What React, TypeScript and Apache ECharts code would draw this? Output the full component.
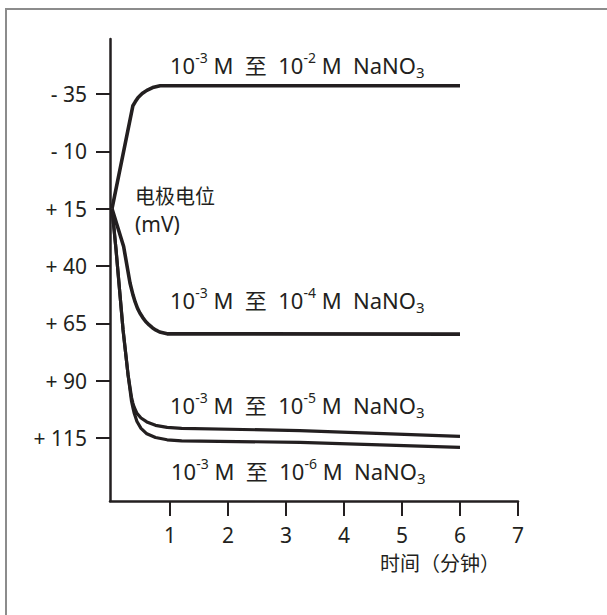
import React, { useEffect, useRef } from "react";
import * as echarts from "echarts";

// time (minutes)
const xTicks = [1, 2, 3, 4, 5, 6, 7];
// electrode potential tick values (mV)
const yTicks = [-35, -10, 15, 40, 65, 90, 115];

// curve: 10^-3 M -> 10^-2 M NaNO3
const c2X = [0, 0.36, 0.4, 0.45, 0.52, 0.6, 0.7, 0.83, 6.0];
const c2Y = [15, -29.9, -31.6, -33.5, -35.2, -36.6, -37.8, -38.6, -38.6];
// curve: 10^-3 M -> 10^-4 M NaNO3
const c4X = [0, 0.2, 0.31, 0.36, 0.4, 0.44, 0.48, 0.53, 0.58, 0.64, 0.7, 0.76, 0.82, 0.95, 6.0];
const c4Y = [15, 31.5, 47.4, 52.5, 55.8, 58.5, 60.5, 62.5, 64.2, 65.7, 67, 68, 68.8, 69.6, 69.7];
// curve: 10^-3 M -> 10^-5 M NaNO3
const c5X = [0, 0.069, 0.19, 0.276, 0.336, 0.36, 0.38, 0.43, 0.5, 0.6, 0.75, 0.95, 1.2, 3.24, 6.0];
const c5Y = [15, 32.9, 67.8, 87.4, 97.3, 99.8, 101.5, 104.3, 106.3, 108, 109.5, 110.4, 110.8, 111.8, 114.3];
// curve: 10^-3 M -> 10^-6 M NaNO3
const c6X = [0, 0.069, 0.19, 0.276, 0.336, 0.36, 0.38, 0.43, 0.5, 0.6, 0.75, 0.95, 1.2, 3.24, 6.0];
const c6Y = [15, 32.9, 67.8, 87.4, 99, 101.8, 104, 107.8, 110.8, 113.2, 114.8, 115.8, 116.3, 116.9, 119.1];

const seriesNames = ["10^-2", "10^-4", "10^-5", "10^-6"];
const yAxisTitle = ["电极电位", "(mV)"];
const xAxisTitle = "时间（分钟）";

const INK = "#231f20";
const FONT = '"Noto Sans", "Noto Sans CJK SC", sans-serif';

function pairs(xs: number[], ys: number[]) {
  return xs.map((x, i) => [x, ys[i]]);
}

function annot(exp: string, x: number, y: number) {
  return {
    type: "text",
    left: x,
    top: y - 15,
    style: {
      text: `{n|10}{sup|-3}{n| M  至  10}{sup|${exp}}{n| M  NaNO}{sub|3}`,
      fill: INK,
      fontFamily: FONT,
      rich: {
        n: { fontSize: 22, lineHeight: 30, fontFamily: FONT, fill: INK },
        sup: { fontSize: 14, lineHeight: 20, verticalAlign: "top", fontFamily: FONT, fill: INK },
        sub: { fontSize: 15, lineHeight: 12, verticalAlign: "bottom", fontFamily: FONT, fill: INK },
      },
    },
  };
}

export default function App() {
  const ref = useRef<HTMLDivElement>(null);
  useEffect(() => {
    if (!ref.current) return;
    const chart = echarts.init(ref.current, null, { renderer: "svg" });
    const data = [pairs(c2X, c2Y), pairs(c4X, c4Y), pairs(c5X, c5Y), pairs(c6X, c6Y)];
    const widths = [3.6, 3.6, 3.2, 3.2];
    chart.setOption({
      animation: false,
      backgroundColor: "#ffffff",
      textStyle: { fontFamily: FONT },
      grid: { left: 110, top: 39, width: 408, height: 462 },
      xAxis: {
        type: "value",
        min: -0.035,
        max: 7,
        axisLine: { show: true, onZero: false, lineStyle: { color: INK, width: 2.5 } },
        axisTick: { show: true, customValues: xTicks, length: 15, lineStyle: { color: INK, width: 2 } },
        axisLabel: { customValues: xTicks, margin: 23, fontSize: 21, color: INK, fontFamily: FONT },
        splitLine: { show: false },
      },
      yAxis: {
        type: "value",
        inverse: true,
        min: -59,
        max: 142.5,
        axisLine: { show: true, onZero: false, lineStyle: { color: INK, width: 2.5 } },
        axisTick: { show: true, customValues: yTicks, length: 14, lineStyle: { color: INK, width: 2 } },
        axisLabel: {
          customValues: yTicks,
          margin: 23,
          fontSize: 21,
          color: INK,
          fontFamily: FONT,
          padding: [6, 0, 0, 0],
          formatter: (v: number) => (v < 0 ? `- ${Math.abs(v)}` : `+ ${v}`),
        },
        splitLine: { show: false },
      },
      series: data.map((d, i) => ({
        type: "line",
        name: seriesNames[i],
        data: d,
        showSymbol: false,
        symbol: "none",
        smooth: false,
        lineStyle: { color: INK, width: widths[i], join: "round" },
        z: 3,
      })),
      graphic: [
        {
          type: "rect",
          shape: { x: 6, y: 9, width: 700, height: 700 },
          style: { fill: "none", stroke: "#8c8c8c", lineWidth: 2 },
          silent: true,
        },
        annot("-2", 170, 65),
        annot("-4", 170, 300),
        annot("-5", 170, 405),
        annot("-6", 171, 471),
        {
          type: "text",
          left: 135,
          top: 186,
          style: { text: yAxisTitle[0], fontSize: 20, fontFamily: FONT, fill: INK },
        },
        {
          type: "text",
          left: 135,
          top: 213,
          style: { text: yAxisTitle[1], fontSize: 21, fontFamily: FONT, fill: INK },
        },
        {
          type: "text",
          left: 380,
          top: 553,
          style: { text: xAxisTitle, fontSize: 20, fontFamily: FONT, fill: INK },
        },
      ],
    });
    return () => chart.dispose();
  }, []);
  return (
    <div
      ref={ref}
      style={{ position: "fixed", left: 0, top: 0, width: 607, height: 615, background: "#fff" }}
    />
  );
}
